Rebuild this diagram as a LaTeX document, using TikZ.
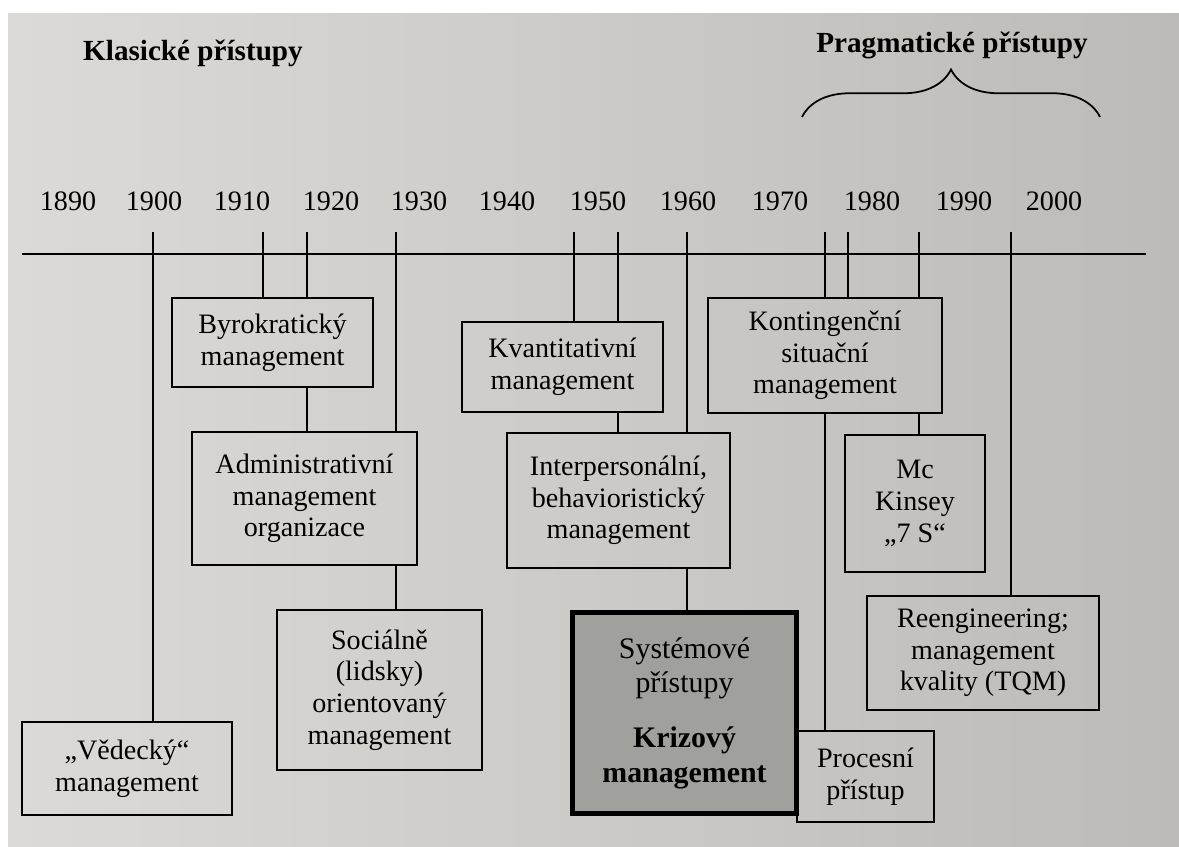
\documentclass[tikz,border=0pt]{standalone}
\usepackage{fontspec}
\setmainfont{Liberation Serif}
\usetikzlibrary{decorations.pathreplacing}
\definecolor{paperL}{RGB}{219,218,214}
\definecolor{paperM}{RGB}{211,210,206}
\definecolor{paperR}{RGB}{188,187,183}
\definecolor{shade}{RGB}{160,160,156}

\begin{document}
\begin{tikzpicture}[x=0.02cm,y=-0.02cm,
  every node/.style={font=\fontsize{16}{18}\selectfont},
  box/.style={draw,line width=1pt,align=center,inner sep=0pt},
  year/.style={anchor=base},
  heading/.style={anchor=base,font=\fontsize{16.6}{20}\selectfont\bfseries},
  link/.style={line width=1pt},
  mainlink/.style={line width=1.6pt}]
  \useasboundingbox (0,0) rectangle (1179,846);
  \fill[white] (0,0) rectangle (1179,846);
  \shade[left color=paperL,middle color=paperM,right color=paperR]
    (8,13) rectangle (1179,846);

  % headings
  \node[heading] (klas) at (193,60) {Klasické přístupy};
  \node[heading] (prag) at (952,52) {Pragmatické přístupy};
  \coordinate (bl) at (802,117);
  \coordinate (br) at (1100,117);
  \draw[link,decorate,decoration={brace,amplitude=0.95cm}] (bl) -- (br);

  % time axis
  \foreach \yr/\x in {1890/68,1900/154,1910/242,1920/331,1930/419,1940/507,
                      1950/598,1960/688,1970/780,1980/872,1990/964,2000/1054}
    \node[year] (y\yr) at (\x,210) {\yr};
  \coordinate (axL) at (22,254);
  \coordinate (axR) at (1146,254);
  \draw[link] (axL) -- (axR);
  \foreach \t/\x in {1900/153,1911/263,1916/307,1927/396,1947/574,1952/618,
                     1960/687,1974/825,1977/848,1985/919,1995/1011}
    \coordinate (t\t) at (\x,232);

  % boxes
  \node[box,minimum width=4.2cm,minimum height=1.86cm] (ved) at (127,768.5)
    {„Vědecký“\\management};
  \node[box,minimum width=4.02cm,minimum height=1.78cm] (byro) at (272.5,342.5)
    {Byrokratický\\management};
  \node[box,minimum width=4.5cm,minimum height=2.66cm] (admin) at (304.5,498.5)
    {Administrativní\\management\\organizace};
  \node[box,minimum width=4.1cm,minimum height=3.2cm] (soc) at (379.5,690)
    {Sociálně\\(lidsky)\\orientovaný\\management};
  \node[box,minimum width=4.02cm,minimum height=1.8cm] (kvant) at (562.5,367)
    {Kvantitativní\\management};
  \node[box,minimum width=4.46cm,minimum height=2.7cm] (inter) at (618.5,500.5)
    {Interpersonální,\\behavioristický\\management};
  \node[box,minimum width=4.68cm,minimum height=2.3cm] (kont) at (825,355.5)
    {Kontingenční\\situační\\management};
  \node[box,minimum width=2.8cm,minimum height=2.74cm] (mck) at (915,503.5)
    {Mc\\Kinsey\\„7 S“};
  \node[box,minimum width=4.64cm,minimum height=2.28cm] (reen) at (983,653)
    {Reengineering;\\management\\kvality (TQM)};
  \node[box,minimum width=2.74cm,minimum height=1.82cm] (proc) at (865.5,776.5)
    {Procesní\\přístup};
  \node[box,minimum width=4.49cm,minimum height=4.03cm,line width=2.6pt,
        fill=shade,font=\fontsize{17}{19.5}\selectfont] (sys) at (684.5,713)
    {Systémové\\přístupy\\[12pt]\textbf{Krizový}\\\textbf{management}};

  % links
  \foreach \t/\n in {1900/ved,1911/byro,1916/byro,1927/admin,1947/kvant,
                     1952/kvant,1974/kont,1977/kont,1985/kont,1995/reen}
    \draw[link] (t\t) -- (t\t |- \n.north);
  \foreach \t/\a/\b in {1916/byro/admin,1927/admin/soc,1952/kvant/inter,
                        1974/kont/proc,1985/kont/mck}
    \draw[link] (t\t |- \a.south) -- (t\t |- \b.north);
  \draw[mainlink] (t1960) -- (t1960 |- inter.north);
  \draw[mainlink] (t1960 |- inter.south) -- (t1960 |- sys.north);
\end{tikzpicture}
\end{document}
